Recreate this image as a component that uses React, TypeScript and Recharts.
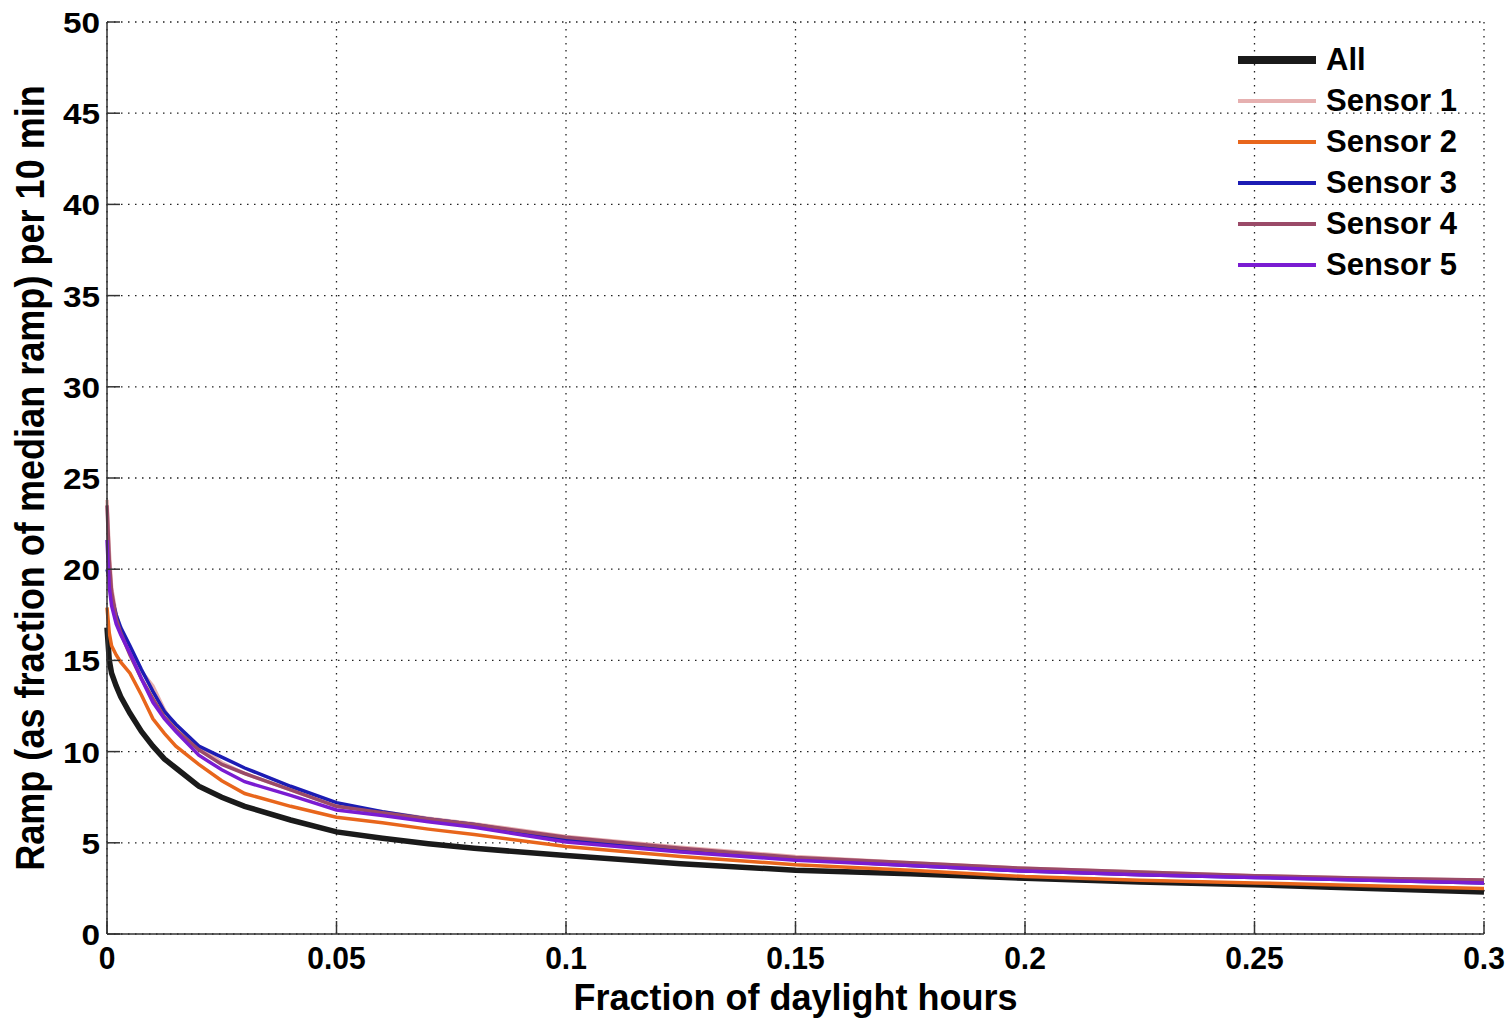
import React from 'react';
import {
  LineChart,
  Line,
  XAxis,
  YAxis,
  CartesianGrid,
  Label,
} from 'recharts';

// x: fraction of daylight hours
const fractions = [
  0, 0.0005, 0.001, 0.002, 0.003, 0.005, 0.0075, 0.01, 0.0125, 0.015, 0.02, 0.025, 0.03,
  0.04, 0.05, 0.06, 0.07, 0.08, 0.1, 0.125, 0.15, 0.175, 0.2, 0.225, 0.25, 0.275, 0.3,
];

const allRamp = [
  16.8, 15.0, 14.3, 13.6, 13.0, 12.1, 11.1, 10.3, 9.6, 9.1, 8.1, 7.5, 7.0,
  6.25, 5.6, 5.25, 4.95, 4.7, 4.3, 3.85, 3.5, 3.3, 3.05, 2.85, 2.7, 2.5, 2.3,
];
const sensor1 = [
  23.8, 21.0, 19.0, 17.5, 16.6, 15.6, 14.4, 13.6, 12.3, 11.3, 10.3, 9.4, 8.8,
  7.9, 7.0, 6.7, 6.35, 6.05, 5.35, 4.75, 4.25, 3.9, 3.6, 3.4, 3.2, 3.05, 2.95,
];
const sensor2 = [
  17.9, 16.5, 15.8, 15.3, 14.9, 14.3, 13.1, 11.8, 11.0, 10.3, 9.3, 8.4, 7.7,
  7.0, 6.4, 6.1, 5.75, 5.45, 4.8, 4.25, 3.8, 3.5, 3.15, 2.95, 2.8, 2.65, 2.5,
];
const sensor3 = [
  20.0, 19.5, 18.5, 17.5, 16.8, 15.8, 14.5, 13.3, 12.2, 11.5, 10.3, 9.7, 9.1,
  8.1, 7.2, 6.7, 6.3, 6.0, 5.2, 4.6, 4.1, 3.75, 3.45, 3.25, 3.1, 2.95, 2.8,
];
const sensor4 = [
  23.5, 20.5, 18.8, 17.3, 16.5, 15.3, 14.0, 12.9, 11.9, 11.2, 10.1, 9.3, 8.8,
  7.9, 7.0, 6.65, 6.3, 6.0, 5.3, 4.7, 4.2, 3.9, 3.6, 3.4, 3.2, 3.05, 2.96,
];
const sensor5 = [
  21.6, 19.0, 18.0, 17.0, 16.4, 15.4, 14.0, 12.7, 11.8, 11.1, 9.8, 9.0, 8.35,
  7.6, 6.8, 6.5, 6.15, 5.85, 5.05, 4.5, 4.05, 3.75, 3.45, 3.25, 3.1, 2.95, 2.8,
];

const xTicks = [0, 0.05, 0.1, 0.15, 0.2, 0.25, 0.3];
const yTicks = [0, 5, 10, 15, 20, 25, 30, 35, 40, 45, 50];

const series = [
  { key: 'all', name: 'All', color: '#1a1a1a', width: 5.5 },
  { key: 's1', name: 'Sensor 1', color: '#e6b0b0', width: 3.5 },
  { key: 's2', name: 'Sensor 2', color: '#e8661c', width: 3.5 },
  { key: 's3', name: 'Sensor 3', color: '#1c1cb4', width: 3.5 },
  { key: 's4', name: 'Sensor 4', color: '#9a4a68', width: 3.5 },
  { key: 's5', name: 'Sensor 5', color: '#7a1cd2', width: 3.5 },
];

const data = fractions.map((f, i) => ({
  f,
  all: allRamp[i],
  s1: sensor1[i],
  s2: sensor2[i],
  s3: sensor3[i],
  s4: sensor4[i],
  s5: sensor5[i],
}));

const AXIS = '#333';
const TICK_LEN = 13;
const font = '"Liberation Sans", Arial, sans-serif';

function BottomTick(props: any) {
  const { x, y, payload } = props;
  return (
    <g>
      <line x1={x} y1={y} x2={x} y2={y - TICK_LEN} stroke={AXIS} strokeWidth={1.5} />
      <text
        transform={`translate(${x} ${y + 35}) scale(1 1.05)`}
        textAnchor="middle"
        fontFamily={font}
        fontWeight="bold"
        fontSize={30}
        fill="#000"
      >
        {String(payload.value)}
      </text>
    </g>
  );
}

function TopTick(props: any) {
  const { x, y } = props;
  return <line x1={x} y1={y} x2={x} y2={y + TICK_LEN} stroke={AXIS} strokeWidth={1.5} />;
}

function LeftTick(props: any) {
  const { x, y, payload } = props;
  return (
    <g>
      <line x1={x} y1={y} x2={x + TICK_LEN} y2={y} stroke={AXIS} strokeWidth={1.5} />
      <text
        transform={`translate(${x - 7} ${y + 11}) scale(1.15 1)`}
        textAnchor="end"
        fontFamily={font}
        fontWeight="bold"
        fontSize={29}
        fill="#000"
      >
        {String(payload.value)}
      </text>
    </g>
  );
}

function RightTick(props: any) {
  const { x, y } = props;
  return <line x1={x} y1={y} x2={x - TICK_LEN} y2={y} stroke={AXIS} strokeWidth={1.5} />;
}

function ChartLegend() {
  return (
    <div
      style={{
        position: 'absolute',
        top: 39,
        left: 1238,
        fontFamily: font,
        fontWeight: 'bold',
        fontSize: 31,
        color: '#000',
      }}
    >
      {series.map((s) => (
        <div key={s.key} style={{ display: 'flex', alignItems: 'center', height: 41 }}>
          <div style={{ width: 78, height: s.key === 'all' ? 8 : 4, background: s.color, marginRight: 10 }} />
          <span>{s.name}</span>
        </div>
      ))}
    </div>
  );
}

export default function App() {
  return (
    <div style={{ position: 'absolute', left: 0, top: 0, width: 1512, height: 1018, background: '#fff' }}>
      <LineChart width={1512} height={1018} data={data} margin={{ top: 22, right: 28, bottom: 0, left: 0 }}>
        <CartesianGrid
          xAxisId="bottom"
          yAxisId="left"
          stroke="#222"
          strokeDasharray="1.5 5.5"
          strokeWidth={1.3}
        />
        <XAxis
          xAxisId="bottom"
          dataKey="f"
          type="number"
          domain={[0, 0.3]}
          ticks={xTicks}
          height={84}
          tickSize={0}
          tickMargin={0}
          tickLine={false}
          axisLine={{ stroke: AXIS, strokeWidth: 1.5 }}
          tick={<BottomTick />}
          interval={0}
        >
          <Label
            content={(p: any) => {
              const vb = p.viewBox;
              const cx = vb.x + vb.width / 2;
              return (
                <text
                  x={cx}
                  y={vb.y + 76}
                  textAnchor="middle"
                  fontFamily={font}
                  fontWeight="bold"
                  fontSize={36}
                  fill="#000"
                >
                  Fraction of daylight hours
                </text>
              );
            }}
          />
        </XAxis>
        <XAxis
          xAxisId="top"
          orientation="top"
          dataKey="f"
          type="number"
          domain={[0, 0.3]}
          ticks={xTicks}
          height={0}
          tickSize={0}
          tickMargin={0}
          tickLine={false}
          axisLine={{ stroke: AXIS, strokeWidth: 1.5 }}
          tick={<TopTick />}
          interval={0}
        />
        <YAxis
          yAxisId="left"
          type="number"
          domain={[0, 50]}
          ticks={yTicks}
          width={107}
          tickSize={0}
          tickMargin={0}
          tickLine={false}
          axisLine={{ stroke: AXIS, strokeWidth: 1.5 }}
          tick={<LeftTick />}
          interval={0}
        >
          <Label
            content={(p: any) => {
              const vb = p.viewBox;
              const cx = vb.x + 30;
              const cy = vb.y + vb.height / 2;
              return (
                <text
                  transform={`translate(${cx} ${cy}) rotate(-90) scale(0.88 1)`}
                  textAnchor="middle"
                  dominantBaseline="central"
                  fontFamily={font}
                  fontWeight="bold"
                  fontSize={41}
                  fill="#000"
                >
                  Ramp (as fraction of median ramp) per 10 min
                </text>
              );
            }}
          />
        </YAxis>
        <YAxis
          yAxisId="right"
          orientation="right"
          type="number"
          domain={[0, 50]}
          ticks={yTicks}
          width={0}
          tickSize={0}
          tickMargin={0}
          tickLine={false}
          axisLine={{ stroke: AXIS, strokeWidth: 1.5 }}
          tick={<RightTick />}
          interval={0}
        />
        {series.map((s) => (
          <Line
            key={s.key}
            xAxisId="bottom"
            yAxisId="left"
            dataKey={s.key}
            name={s.name}
            type="linear"
            stroke={s.color}
            strokeWidth={s.width}
            dot={false}
            activeDot={false}
            isAnimationActive={false}
          />
        ))}
      </LineChart>
      <ChartLegend />
    </div>
  );
}
